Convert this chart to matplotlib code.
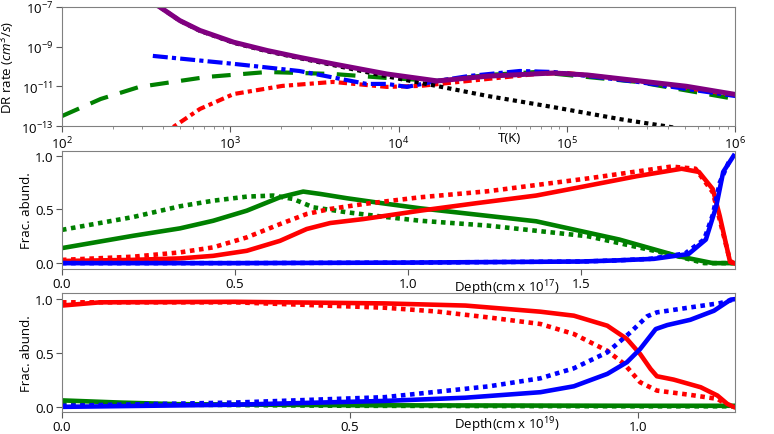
import matplotlib
matplotlib.use("Agg")
import matplotlib.pyplot as plt
import numpy as np
from matplotlib.ticker import LogLocator, NullFormatter, FixedLocator

plt.rcParams['font.family'] = ['Open Sans', 'DejaVu Sans']
plt.rcParams['mathtext.fontset'] = 'custom'
plt.rcParams['mathtext.rm'] = 'Open Sans'
plt.rcParams['mathtext.it'] = 'Open Sans:italic'
plt.rcParams['font.size'] = 9.5

# ---- DR rates, log10 T and log10 rate ----
purple_logT = [2.50, 2.58, 2.70, 2.82, 3.02, 3.22, 3.41, 3.61, 3.93, 4.23, 4.53, 4.92, 5.12, 5.42, 5.71, 6.0]
purple_logR = [-6.6, -7.0, -7.69, -8.19, -8.78, -9.20, -9.54, -9.87, -10.38, -10.73, -10.49, -10.33, -10.43, -10.72, -11.0, -11.41]

black_logT = [2.50, 2.58, 2.70, 2.82, 3.02, 3.22, 3.41, 3.61, 3.93, 4.23, 4.53, 4.92, 5.32, 5.58, 6.0]
black_logR = [-6.6, -7.0, -7.70, -8.21, -8.81, -9.24, -9.58, -9.93, -10.50, -10.99, -11.49, -12.05, -12.66, -13.0, -13.6]

blue_logT = [2.54, 3.02, 3.41, 3.81, 3.93, 4.05, 4.23, 4.42, 4.72, 4.92, 5.42, 6.0]
blue_logR = [-9.47, -9.87, -10.23, -10.88, -10.88, -11.03, -10.73, -10.48, -10.23, -10.28, -10.78, -11.49]

green_logT = [2.0, 2.23, 2.46, 2.86, 3.22, 3.61, 3.93, 4.23, 4.53, 4.82, 5.42, 6.0]
green_logR = [-12.5, -11.64, -11.03, -10.53, -10.28, -10.38, -10.58, -10.73, -10.43, -10.28, -10.78, -11.64]

red_logT = [2.60, 2.67, 2.82, 3.02, 3.31, 3.61, 3.93, 4.13, 4.53, 4.82, 5.0, 5.42, 6.0]
red_logR = [-13.4, -13.0, -12.14, -11.39, -10.98, -10.78, -11.03, -10.98, -10.63, -10.38, -10.33, -10.73, -11.44]

# ---- abundances, depth in 1e17 cm ----
d1_green = [0.0, 0.206, 0.341, 0.437, 0.534, 0.63, 0.697, 0.746, 0.823, 0.919, 1.035, 1.37, 1.61, 1.78, 1.88, 1.94]
f1_green = [0.14, 0.255, 0.324, 0.395, 0.489, 0.614, 0.667, 0.645, 0.605, 0.561, 0.511, 0.39, 0.22, 0.065, 0.0, 0.0]
d1_greend = [0.0, 0.206, 0.341, 0.437, 0.534, 0.61, 0.668, 0.726, 0.823, 0.919, 1.035, 1.23, 1.52, 1.76, 1.855, 1.94]
f1_greend = [0.31, 0.43, 0.53, 0.582, 0.62, 0.63, 0.598, 0.52, 0.474, 0.436, 0.395, 0.35, 0.25, 0.08, 0.0, 0.0]
d1_red = [0.0, 0.20, 0.341, 0.437, 0.534, 0.63, 0.707, 0.775, 0.871, 1.035, 1.2, 1.37, 1.5, 1.66, 1.79, 1.84, 1.88, 1.90, 1.93, 1.94]
f1_red = [0.02, 0.03, 0.044, 0.068, 0.115, 0.208, 0.318, 0.374, 0.411, 0.489, 0.56, 0.63, 0.71, 0.81, 0.88, 0.85, 0.69, 0.44, 0.01, 0.0]
d1_redd = [0.0, 0.206, 0.341, 0.437, 0.534, 0.63, 0.707, 0.775, 0.871, 1.035, 1.23, 1.52, 1.76, 1.83, 1.88, 1.93, 1.94]
f1_redd = [0.03, 0.06, 0.10, 0.147, 0.24, 0.364, 0.458, 0.505, 0.551, 0.614, 0.67, 0.79, 0.90, 0.88, 0.66, 0.02, 0.0]
d1_blue = [0.0, 0.5, 1.0, 1.5, 1.6, 1.71, 1.81, 1.86, 1.89, 1.91, 1.94]
f1_blue = [0.0, 0.0, 0.005, 0.015, 0.025, 0.04, 0.085, 0.22, 0.53, 0.85, 1.0]
d1_blued = [0.0, 0.5, 1.0, 1.5, 1.6, 1.70, 1.80, 1.855, 1.88, 1.90, 1.93]
f1_blued = [0.0, 0.0, 0.005, 0.015, 0.025, 0.04, 0.09, 0.22, 0.45, 0.75, 0.97]

# ---- abundances, depth in 1e19 cm ----
d2_red = [0.0, 0.066, 0.3, 0.56, 0.70, 0.83, 0.888, 0.946, 0.98, 1.003, 1.021, 1.032, 1.061, 1.108, 1.137, 1.154, 1.165]
f2_red = [0.94, 0.97, 0.975, 0.96, 0.94, 0.883, 0.846, 0.753, 0.63, 0.49, 0.352, 0.284, 0.253, 0.182, 0.105, 0.028, 0.0]
d2_redd = [0.0, 0.3, 0.56, 0.65, 0.74, 0.83, 0.888, 0.946, 0.975, 1.003, 1.032, 1.09, 1.137, 1.151]
f2_redd = [0.97, 0.97, 0.92, 0.885, 0.83, 0.769, 0.676, 0.52, 0.40, 0.228, 0.151, 0.111, 0.074, 0.028]
d2_blue = [0.0, 0.3, 0.56, 0.70, 0.83, 0.888, 0.946, 0.98, 1.003, 1.03, 1.05, 1.09, 1.131, 1.160, 1.168]
f2_blue = [0.0, 0.02, 0.055, 0.085, 0.136, 0.191, 0.306, 0.414, 0.537, 0.722, 0.759, 0.808, 0.892, 0.995, 1.0]
d2_blued = [0.0, 0.3, 0.56, 0.74, 0.83, 0.888, 0.946, 0.986, 1.015, 1.032, 1.09, 1.142, 1.168]
f2_blued = [0.01, 0.04, 0.09, 0.19, 0.265, 0.358, 0.506, 0.691, 0.84, 0.877, 0.923, 0.963, 1.0]
d2_green = [0.0, 0.1, 0.2, 0.5, 1.0, 1.168]
f2_green = [0.06, 0.04, 0.025, 0.015, 0.01, 0.01]
d2_greend = [0.0, 0.1, 0.2, 0.5, 1.0, 1.168]
f2_greend = [0.04, 0.03, 0.02, 0.01, 0.005, 0.005]

spine_col = '0.5'
dot = (0, (1, 1))


def style(ax):
    for s in ax.spines.values():
        s.set_color(spine_col)
    ax.tick_params(direction='out', length=4, color='0.35', top=False, right=False, pad=2)
    ax.tick_params(which='minor', direction='out', length=2, color='0.5', top=False, right=False)


def abund(ax, curves):
    for d, f, col, ls in curves:
        ax.plot(d, f, color=col, lw=3.3, linestyle=ls, solid_joinstyle='round')


fig = plt.figure(figsize=(7.74, 4.35), dpi=100)

# ---------------- top: DR rates ----------------
ax1 = fig.add_axes([0.080, 0.708, 0.870, 0.274])
p = lambda a: 10 ** np.array(a)
ax1.plot(p(green_logT), p(green_logR), color='green', lw=3, dashes=(4.5, 3))
ax1.plot(p(red_logT), p(red_logR), color='red', lw=3, dashes=(2, 1, 1, 1))
ax1.plot(p(blue_logT), p(blue_logR), color='blue', lw=3, dashes=(3.6, 1, 1, 1))
ax1.plot(p(black_logT), p(black_logR), color='black', lw=3, linestyle=dot)
ax1.plot(p(purple_logT), p(purple_logR), color='purple', lw=3.6, solid_joinstyle='round')
ax1.set_xscale('log')
ax1.set_yscale('log')
ax1.set_xlim(1e2, 1e6)
ax1.set_ylim(1e-13, 1e-7)
ax1.yaxis.set_major_locator(FixedLocator([1e-13, 1e-11, 1e-9, 1e-7]))
ax1.yaxis.set_minor_locator(FixedLocator([]))
ax1.xaxis.set_minor_locator(LogLocator(base=10, subs=np.arange(2, 10)))
ax1.xaxis.set_minor_formatter(NullFormatter())
style(ax1)
ax1.set_xlabel('T(K)')
ax1.xaxis.set_label_coords(0.664, -0.04)
ax1.set_ylabel('DR rate $(cm^3/s)$')
ax1.yaxis.set_label_coords(-0.066, 0.5)

# ---------------- middle: abundances (1e17) ----------------
ax2 = fig.add_axes([0.080, 0.379, 0.870, 0.272])
abund(ax2, [(d1_greend, f1_greend, 'green', dot),
            (d1_green, f1_green, 'green', '-'),
            (d1_redd, f1_redd, 'red', dot),
            (d1_red, f1_red, 'red', '-'),
            (d1_blued, f1_blued, 'blue', dot),
            (d1_blue, f1_blue, 'blue', '-')])
ax2.set_xlim(0, 1.945)
ax2.set_ylim(-0.056, 1.047)
ax2.set_xticks([0.0, 0.5, 1.0, 1.5])
ax2.set_yticks([0.0, 0.5, 1.0])
style(ax2)
ax2.set_xlabel('Depth(cm x 10$^{17}$)')
ax2.xaxis.set_label_coords(0.661, -0.068)
ax2.set_ylabel('Frac. abund.')
ax2.yaxis.set_label_coords(-0.043, 0.5)

# ---------------- bottom: abundances (1e19) ----------------
ax3 = fig.add_axes([0.080, 0.051, 0.870, 0.273])
abund(ax3, [(d2_greend, f2_greend, 'green', dot),
            (d2_green, f2_green, 'green', '-'),
            (d2_redd, f2_redd, 'red', dot),
            (d2_red, f2_red, 'red', '-'),
            (d2_blued, f2_blued, 'blue', dot),
            (d2_blue, f2_blue, 'blue', '-')])
ax3.set_xlim(0, 1.168)
ax3.set_ylim(-0.046, 1.056)
ax3.set_xticks([0.0, 0.5, 1.0])
ax3.set_yticks([0.0, 0.5, 1.0])
style(ax3)
ax3.set_xlabel('Depth(cm x 10$^{19}$)')
ax3.xaxis.set_label_coords(0.661, -0.025)
ax3.set_ylabel('Frac. abund.')
ax3.yaxis.set_label_coords(-0.043, 0.5)

fig.savefig('out.png', dpi=100)
